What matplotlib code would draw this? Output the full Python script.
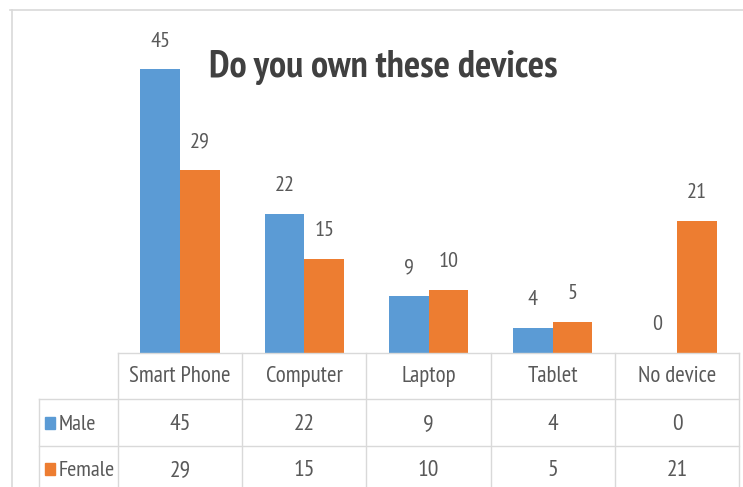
import matplotlib
matplotlib.use("Agg")
import matplotlib.pyplot as plt
from matplotlib.lines import Line2D
from matplotlib.patches import Rectangle

plt.rcParams['font.family'] = ['PT Sans Narrow', 'DejaVu Sans']

categories = ["Smart Phone", "Computer", "Laptop", "Tablet", "No device"]
series_names = ["Male", "Female"]
male = [45, 22, 9, 4, 0]
female = [29, 15, 10, 5, 21]

BLUE = "#5b9bd5"
ORANGE = "#ed7d31"
TEXT = "#595959"
GRID = "#d9d9d9"

W, H = 743, 487
fig = plt.figure(figsize=(W / 100, H / 100), dpi=100)


def fx(px):
    return px / W


def fy(py):
    # pixel row measured from the top
    return 1 - py / H


# plot area sits right above the data table
col_edges = [118, 242, 366, 491, 615, 739]
base_y = 353
top_y = 10
ax = fig.add_axes([fx(118), fy(base_y), fx(739 - 118), (base_y - top_y) / H])
ax.set_xlim(-0.5, len(categories) - 0.5)
ax.set_ylim(0, (base_y - top_y) / 6.3)
ax.axis("off")

bw = 0.32
xs = range(len(categories))
for vals, color, shift in [(male, BLUE, -bw / 2), (female, ORANGE, bw / 2)]:
    bars = ax.bar([x + shift for x in xs], vals, width=bw, color=color)
    for b, v in zip(bars, vals):
        ax.annotate(str(v), (b.get_x() + b.get_width() / 2, v),
                    xytext=(0, 16.5), textcoords="offset points",
                    ha="center", va="baseline", fontsize=16, color=TEXT)

fig.text(fx(383), fy(77), "Do you own these devices", ha="center", va="baseline",
         fontsize=27.5, fontweight="bold", color="#404040")

# outer chart frame
fig.add_artist(Line2D([fx(10), 1], [fy(10), fy(10)], color=GRID, lw=1.2))
fig.add_artist(Line2D([fx(12), fx(12)], [fy(10), 0], color=GRID, lw=1.2))

# data table grid
fig.add_artist(Line2D([fx(118), fx(739)], [fy(353), fy(353)], color=GRID, lw=1))
for r in [399, 446]:
    fig.add_artist(Line2D([fx(39), fx(739)], [fy(r), fy(r)], color=GRID, lw=1))
for c in col_edges:
    fig.add_artist(Line2D([fx(c), fx(c)], [fy(353), 0], color=GRID, lw=1))
fig.add_artist(Line2D([fx(39), fx(39)], [fy(399), 0], color=GRID, lw=1))

centers = [(col_edges[i] + col_edges[i + 1]) / 2 for i in range(len(categories))]
for cx, cat in zip(centers, categories):
    fig.text(fx(cx), fy(382), cat, ha="center", va="baseline", fontsize=16.5, color=TEXT)

row_base = [430, 476]
for ry, name, vals, color in zip(row_base, series_names, [male, female], [BLUE, ORANGE]):
    fig.add_artist(Rectangle((fx(45), fy(ry - 1)), fx(10), 12 / H, color=color,
                             transform=fig.transFigure))
    fig.text(fx(59), fy(ry), name, ha="left", va="baseline", fontsize=16, color=TEXT)
    for cx, v in zip(centers, vals):
        fig.text(fx(cx), fy(ry), str(v), ha="center", va="baseline", fontsize=17, color=TEXT)

fig.savefig("out.png", dpi=100, facecolor="white")
